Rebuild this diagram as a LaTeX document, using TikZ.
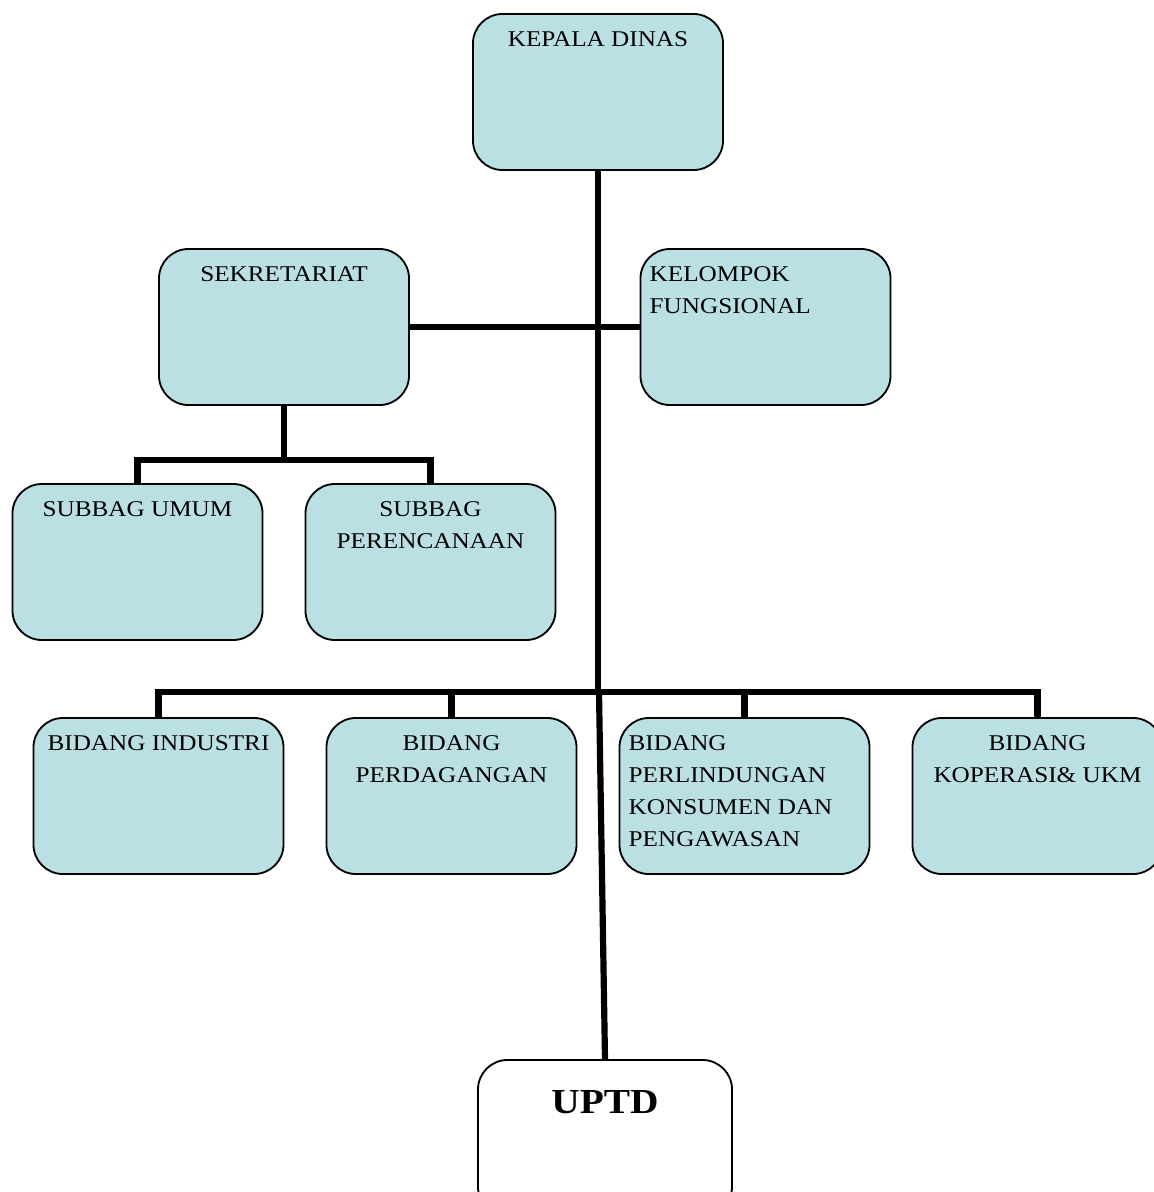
\documentclass[tikz,border=0pt]{standalone}
\usepackage{fontspec}
\setmainfont{Liberation Serif}[FakeStretch=1.12]
\definecolor{boxfill}{RGB}{186,224,227}

\begin{document}
\begin{tikzpicture}[x=0.025cm, y=-0.025cm,
    unit/.style={shape=rectangle, rounded corners=21pt, draw=black, line width=1.3pt,
      fill=boxfill, minimum width=6.25cm, minimum height=3.9cm},
    caption/.style={anchor=north, inner sep=0pt, yshift=-13pt, align=center,
      font=\fontsize{16}{22.7}\selectfont},
    lcaption/.style={caption, anchor=north west, align=left, xshift=7pt},
    link/.style={line width=4.4pt}]
          \useasboundingbox (0,0) rectangle (1154,1192);

          % nodes
          \node[unit] at (598,92) (kadis) {};
          \node[caption] at (kadis.north) (kadis-t) {KEPALA DINAS};
          \node[unit] at (284,327) (sek) {};
          \node[caption] at (sek.north) (sek-t) {SEKRETARIAT};
          \node[unit] at (765.5,327) (kf) {};
          \node[lcaption] at (kf.north west) (kf-t) {KELOMPOK\\FUNGSIONAL};
          \node[unit] at (137.5,562) (umum) {};
          \node[caption] at (umum.north) (umum-t) {SUBBAG UMUM};
          \node[unit] at (430.5,562) (renc) {};
          \node[caption] at (renc.north) (renc-t) {SUBBAG\\PERENCANAAN};
          \node[unit] at (158.5,796) (ind) {};
          \node[caption] at (ind.north) (ind-t) {BIDANG INDUSTRI};
          \node[unit] at (451.5,796) (dag) {};
          \node[caption] at (dag.north) (dag-t) {BIDANG\\PERDAGANGAN};
          \node[unit] at (744.5,796) (plk) {};
          \node[lcaption] at (plk.north west) (plk-t) {BIDANG\\PERLINDUNGAN\\KONSUMEN DAN\\PENGAWASAN};
          \node[unit] at (1037.5,796) (kop) {};
          \node[caption] at (kop.north) (kop-t) {BIDANG\\KOPERASI\& UKM};
          \node[unit, fill=white, minimum width=6.35cm] at (605,1138) (uptd) {};
          \node[caption, yshift=-9pt, font=\fontsize{25}{30}\selectfont\bfseries] at (uptd.north) (uptd-t) {UPTD};

          \coordinate (hub) at (599,692);
          \coordinate (sekbus) at (284,460);

          % arcs
          \draw[link] (kadis.south) -- (kadis.south |- hub);
          \draw[link] (sek.east) -- (kf.west);
          \draw[link] (sek.south) -- (sekbus);
          \draw[link] (umum.north) |- (sekbus) -| (renc.north);
          \draw[link] (ind.north) |- (hub) -| (kop.north);
          \draw[link]
          (dag.north) -- (dag.north |- hub)
          (plk.north) -- (plk.north |- hub)
          ;
          \draw[link] (hub) -- (uptd.north);
        \end{tikzpicture}
\end{document}
